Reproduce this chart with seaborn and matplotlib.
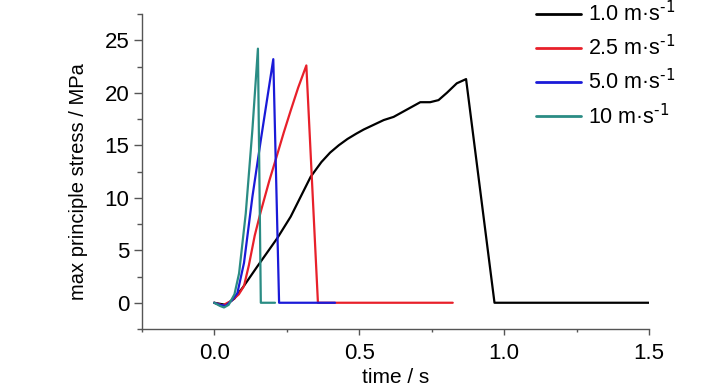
import matplotlib
matplotlib.use("Agg")
import matplotlib.pyplot as plt
import seaborn as sns
import pandas as pd
from matplotlib.ticker import MultipleLocator

# ---- data ----
series_labels = [r"1.0 m·s$^{\text{-1}}$", r"2.5 m·s$^{\text{-1}}$",
                 r"5.0 m·s$^{\text{-1}}$", r"10 m·s$^{\text{-1}}$"]
series_colors = ["#000000", "#e8202a", "#1a1ad8", "#2a8c84"]

t_v1 = [0.0, 0.02, 0.04, 0.07, 0.10, 0.149, 0.218, 0.264, 0.333, 0.37, 0.40, 0.43, 0.46,
        0.49, 0.516, 0.585, 0.619, 0.665, 0.711, 0.745, 0.774, 0.803, 0.837, 0.869, 0.967, 1.5]
s_v1 = [0.0, -0.1, -0.2, 0.4, 1.5, 3.46, 6.16, 8.2, 12.0, 13.4, 14.3, 15.0, 15.6,
        16.1, 16.5, 17.4, 17.7, 18.4, 19.1, 19.1, 19.3, 20.0, 20.9, 21.3, 0.0, 0.0]

t_v2 = [0.0, 0.03, 0.06, 0.085, 0.103, 0.12, 0.14, 0.161, 0.19, 0.212, 0.24, 0.264, 0.29,
        0.318, 0.358, 0.823]
s_v2 = [0.0, -0.25, 0.2, 0.8, 1.6, 3.6, 6.4, 8.7, 11.6, 13.6, 16.2, 18.3, 20.5,
        22.6, 0.0, 0.0]

t_v3 = [0.0, 0.02, 0.04, 0.06, 0.08, 0.103, 0.132, 0.161, 0.185, 0.204, 0.224, 0.417]
s_v3 = [0.0, -0.2, -0.3, 0.2, 0.9, 3.8, 10.1, 15.5, 19.8, 23.2, 0.0, 0.0]

t_v4 = [0.0, 0.02, 0.034, 0.05, 0.07, 0.086, 0.109, 0.132, 0.151, 0.161, 0.21]
s_v4 = [0.0, -0.3, -0.45, -0.2, 0.8, 2.8, 8.5, 16.5, 24.2, 0.0, 0.0]

x_ticks = [0.0, 0.5, 1.0, 1.5]
y_ticks = [0, 5, 10, 15, 20, 25]

frames = []
for lab, t, s in zip(series_labels, [t_v1, t_v2, t_v3, t_v4], [s_v1, s_v2, s_v3, s_v4]):
    frames.append(pd.DataFrame({"time": t, "stress": s, "series": lab}))
df = pd.concat(frames, ignore_index=True)

sns.set_style("ticks")
plt.rcParams["font.family"] = ["Liberation Sans", "DejaVu Sans"]
plt.rcParams["mathtext.default"] = "regular"
plt.rcParams["text.color"] = "black"
plt.rcParams["axes.labelcolor"] = "black"
plt.rcParams["xtick.color"] = "black"
plt.rcParams["ytick.color"] = "black"

fig = plt.figure(figsize=(7.28, 3.9), dpi=100)
ax = fig.add_axes([0.1946, 0.1564, 0.6969, 0.8077])

sns.lineplot(data=df, x="time", y="stress", hue="series", hue_order=series_labels,
             palette=dict(zip(series_labels, series_colors)), sort=False, estimator=None,
             units="series", linewidth=1.6, ax=ax)

ax.set_xlim(-0.25, 1.5)
ax.set_ylim(-2.5, 27.5)
ax.set_xticks(x_ticks)
ax.set_xticklabels([f"{v:.1f}" for v in x_ticks])
ax.set_yticks(y_ticks)
ax.xaxis.set_minor_locator(MultipleLocator(0.25))
ax.yaxis.set_minor_locator(MultipleLocator(2.5))

sns.despine(ax=ax)
spine_col = "#555555"
for sp in ["left", "bottom"]:
    ax.spines[sp].set_color(spine_col)
    ax.spines[sp].set_linewidth(1.0)
ax.tick_params(axis="y", which="major", length=6, width=1.0, color=spine_col,
               labelcolor="black", labelsize=16, pad=3)
ax.tick_params(axis="y", which="minor", length=3.5, width=1.0, color=spine_col)
ax.tick_params(axis="x", which="major", length=4, width=1.0, color=spine_col,
               labelcolor="black", labelsize=16, pad=6)
ax.tick_params(axis="x", which="minor", length=2.5, width=1.0, color=spine_col)

ax.set_xlabel("time / s", fontsize=15, labelpad=3, color="black")
ax.set_ylabel("max principle stress / MPa", fontsize=14.5, color="black")
ax.yaxis.set_label_coords(-0.106, 0.468)

leg = ax.legend(loc="upper left", bbox_to_anchor=(536 / 728, 1.0 - 1 / 390), bbox_transform=fig.transFigure,
                frameon=False, fontsize=15.5, handlelength=2.1, handletextpad=0.3,
                labelspacing=0.42, borderpad=0.0, borderaxespad=0.0)
for line in leg.get_lines():
    line.set_linewidth(2.0)
for txt in leg.get_texts():
    txt.set_color("black")

fig.savefig("out.png", dpi=100)
